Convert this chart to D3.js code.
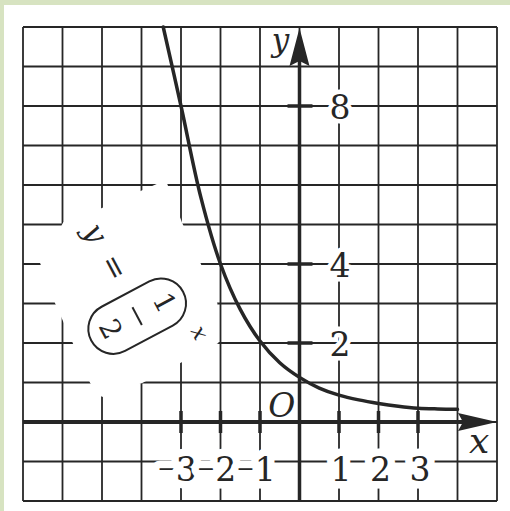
<!DOCTYPE html>
<html>
<head>
<meta charset="utf-8">
<script src="https://cdn.jsdelivr.net/npm/d3@7"></script>
<style>
  html, body { margin: 0; padding: 0; background: #ffffff; }
  svg { display: block; }
</style>
</head>
<body>
<div id="chart"></div>
<script>
// ---- data ----
const gridX = [-7, -6, -5, -4, -3, -2, -1, 0, 1, 2, 3, 4, 5];
const gridY = [-2, -1, 0, 1, 2, 3, 4, 5, 6, 7, 8, 9, 10];
const xTickValues = [-3, -2, -1, 1, 2, 3];
const xTickLabels = ["−3", "−2", "−1", "1", "2", "3"];
const yTickValues = [2, 4, 8];
const yTickLabels = ["2", "4", "8"];
// curve y = (1/2)^x
const curveX = [-3.45, -3, -2.5, -2, -1.5, -1, -0.5, 0, 0.5, 1, 1.5, 2, 2.5, 3, 3.5, 4];
const curveY = [10, 8, 5.7, 4, 2.85, 2.05, 1.5, 1.13, 0.86, 0.68, 0.56, 0.47, 0.4, 0.35, 0.33, 0.32];
// white area behind the formula label (data units)
const maskX = [-3.98, -3.6, -3.35, -2.97, -2.51, -2.08, -2.05, -2.97, -3.98, -5.0, -5.3, -5.74, -6.19, -6.57, -5.98, -5.0];
const maskY = [5.87, 6.03, 6.03, 5.04, 4.03, 3.01, 2.0, 1.52, 0.99, 0.63, 0.99, 2.0, 3.01, 4.03, 5.06, 5.42];
const formulaAnchor = [-4.11, 2.68];

// ---- setup ----
const W = 510, H = 511;
const svg = d3.select("#chart").append("svg").attr("width", W).attr("height", H);
const x = d3.scaleLinear().domain([-7, 5]).range([23, 497]);
const y = d3.scaleLinear().domain([-2, 10]).range([501, 27]);
const ink = "#262626";

svg.append("rect").attr("width", W).attr("height", H).attr("fill", "#ffffff");
svg.append("rect").attr("x", 0).attr("y", 0).attr("width", W).attr("height", 5).attr("fill", "#d7e3c1");
svg.append("rect").attr("x", 0).attr("y", 0).attr("width", 4).attr("height", H).attr("fill", "#d7e3c1");

// grid
const grid = svg.append("g").attr("stroke", ink).attr("stroke-width", 1.8);
grid.selectAll("line.v").data(gridX).join("line")
  .attr("x1", d => x(d)).attr("x2", d => x(d))
  .attr("y1", y(-2)).attr("y2", y(10));
grid.selectAll("line.h").data(gridY).join("line")
  .attr("y1", d => y(d)).attr("y2", d => y(d))
  .attr("x1", x(-7)).attr("x2", x(5));

// white mask for formula area
const maskPts = maskX.map((d, i) => [x(d), y(maskY[i])]);
svg.append("path").attr("d", d3.line()(maskPts) + "Z").attr("fill", "#ffffff");

// axes
svg.append("line").attr("x1", x(-7)).attr("x2", x(5) - 30)
  .attr("y1", y(0)).attr("y2", y(0)).attr("stroke", ink).attr("stroke-width", 4);
svg.append("line").attr("x1", x(0)).attr("x2", x(0))
  .attr("y1", y(-2)).attr("y2", y(10) + 30).attr("stroke", ink).attr("stroke-width", 3.5);
// arrowheads
{
  const tx = x(5), ty = y(0);
  svg.append("path")
    .attr("d", `M${tx},${ty} L${tx - 39},${ty - 9} L${tx - 34},${ty} L${tx - 39},${ty + 9} Z`)
    .attr("fill", ink);
  const ax = x(0), ay = y(10) + 1;
  svg.append("path")
    .attr("d", `M${ax},${ay} L${ax + 10},${ay + 38} L${ax},${ay + 33} L${ax - 10},${ay + 38} Z`)
    .attr("fill", ink);
}
// tick marks
svg.selectAll("line.xt").data(xTickValues).join("line")
  .attr("x1", d => x(d)).attr("x2", d => x(d))
  .attr("y1", y(0) - 11).attr("y2", y(0) + 11)
  .attr("stroke", ink).attr("stroke-width", 3.5);
svg.selectAll("line.yt").data(yTickValues).join("line")
  .attr("y1", d => y(d)).attr("y2", d => y(d))
  .attr("x1", x(0) - 12).attr("x2", x(0) + 13)
  .attr("stroke", ink).attr("stroke-width", 3.5);

// curve
const curvePts = curveX.map((d, i) => [x(d), y(curveY[i])]);
svg.append("path")
  .attr("d", d3.line().curve(d3.curveCatmullRom)(curvePts))
  .attr("fill", "none").attr("stroke", ink).attr("stroke-width", 3.5)
  .attr("stroke-linecap", "round");

// halo style helper
function halo(sel, w) {
  sel.attr("stroke", "#ffffff").attr("stroke-width", w)
     .attr("stroke-linejoin", "round").attr("paint-order", "stroke");
}
const serif = "'DejaVu Serif', 'Liberation Serif', serif";

// x tick labels
const xl = svg.append("g").attr("font-family", serif).attr("fill", ink).attr("font-size", 33);
xTickValues.forEach((v, i) => {
  const lab = xTickLabels[i];
  const t = xl.append("text").attr("x", x(v) + (v > 0 ? 2 : -4)).attr("y", y(0) + 59)
    .attr("text-anchor", "middle");
  halo(t, 15);
  if (lab.startsWith("−")) {
    t.append("tspan").attr("font-size", 22).attr("dy", -5).text("−");
    t.append("tspan").attr("dy", 5).text(lab.slice(1));
  } else {
    t.text(lab);
  }
});
// y tick labels
svg.selectAll("text.yl").data(yTickValues).join("text")
  .attr("x", d => x(1) + 1).attr("y", d => y(d) + 13)
  .attr("text-anchor", "middle").attr("font-family", serif)
  .attr("font-size", 33).attr("fill", ink)
  .text((d, i) => yTickLabels[i])
  .call(s => halo(s, 9));

// axis names
svg.append("text").attr("x", x(0) - 19).attr("y", y(10) + 24)
  .attr("text-anchor", "middle").attr("font-family", serif).attr("font-style", "italic")
  .attr("font-size", 31).attr("fill", ink).text("y").call(s => halo(s, 6));
svg.append("text").attr("x", x(4.55)).attr("y", y(0) + 31)
  .attr("text-anchor", "middle").attr("font-family", serif).attr("font-style", "italic")
  .attr("font-size", 36).attr("fill", ink).text("x").call(s => halo(s, 6));
svg.append("text").attr("x", x(-0.45)).attr("y", y(0) - 5)
  .attr("text-anchor", "middle").attr("font-family", serif).attr("font-style", "italic")
  .attr("font-size", 33).attr("fill", ink).text("O").call(s => halo(s, 6));

// formula label y = (1/2)^x, rotated
const fg = svg.append("g")
  .attr("transform", `translate(${x(formulaAnchor[0])},${y(formulaAnchor[1])}) rotate(62)`)
  .attr("font-family", serif).attr("fill", ink);
fg.append("text").attr("x", -93).attr("y", 8).attr("text-anchor", "middle")
  .attr("font-style", "italic").attr("font-size", 30).text("y");
fg.append("text").attr("x", -54).attr("y", 7).attr("text-anchor", "middle")
  .attr("font-size", 30).text("=");
fg.append("rect").attr("x", -25).attr("y", -52).attr("width", 50).attr("height", 104)
  .attr("rx", 25).attr("fill", "none").attr("stroke", ink).attr("stroke-width", 2);
fg.append("text").attr("x", 1).attr("y", -21).attr("text-anchor", "middle")
  .attr("font-size", 28).text("1");
fg.append("line").attr("x1", -10).attr("x2", 10).attr("y1", 0).attr("y2", 0)
  .attr("stroke", ink).attr("stroke-width", 2);
fg.append("text").attr("x", -1).attr("y", 39).attr("text-anchor", "middle")
  .attr("font-size", 28).text("2");
fg.append("text").attr("x", 44).attr("y", -40).attr("text-anchor", "middle")
  .attr("font-style", "italic").attr("font-size", 22).text("x");
</script>
</body>
</html>
